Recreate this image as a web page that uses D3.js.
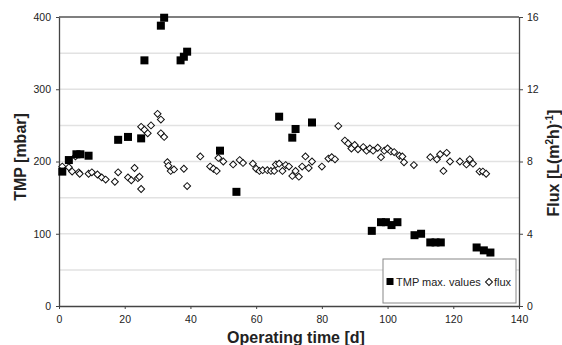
<!DOCTYPE html>
<html>
<head>
<meta charset="utf-8">
<script src="https://cdn.jsdelivr.net/npm/d3@7"></script>
<style>
  body { margin: 0; background: #fff; }
  text { font-family: "Liberation Sans", Arial, sans-serif; fill: #222; }
</style>
</head>
<body>
<div id="chart"></div>
<script>
// TMP max. values (mbar)
const tmpDays = [1, 3, 5.3, 6.5, 9, 18, 21, 25, 26, 31, 32, 37, 38, 39, 49, 54, 67, 71, 72, 77,
  95.2, 98, 99.5, 101.2, 103, 108.2, 110.2, 113, 114.6, 116.2, 127.1, 129.3, 131.3];
const tmpValues = [186, 202, 210, 210, 208, 230, 234, 232, 340, 388, 399, 340, 345, 352, 215, 158, 262, 233, 245, 254,
  104, 116, 116, 112, 116, 98, 100, 88, 88, 88, 81, 77, 74];

// flux L(m2h)-1
const fluxDays = [1, 3, 4, 5, 6, 6.3, 9, 10, 11.7, 13, 14.2, 17, 18, 21, 22, 23, 24, 24.5, 25,
  25, 26, 27, 28, 30, 31, 31, 32, 33, 33.3, 34, 35, 38, 39, 43, 46, 47, 48, 48.5, 50,
  53, 55, 56, 59, 60, 61, 62, 63.4, 64.5, 65.5, 66, 67, 68, 69, 70, 71, 72, 73, 74, 75,
  76, 77, 80, 82, 83, 84, 85, 87, 88, 89, 90, 91, 92.6, 93.6, 94.6, 95.6, 97, 98, 99,
  100, 101, 102, 103.6, 104.5, 105, 108, 113, 115, 116, 117, 118, 119, 122, 124, 125,
  126, 128, 129, 130];
const fluxValues = [7.72, 7.68, 7.44, 8.28, 7.4, 7.32, 7.32, 7.4, 7.28, 7.12, 7.0, 6.88, 7.4, 7.12, 6.96, 7.64, 7.08, 7.16, 6.48,
  9.92, 9.76, 9.56, 10.0, 10.64, 10.32, 9.56, 9.36, 7.96, 7.76, 7.48, 7.56, 7.6, 6.64, 8.28, 7.72, 7.6, 7.48, 8.2, 8.0,
  7.84, 8.08, 7.92, 7.88, 7.6, 7.48, 7.52, 7.52, 7.48, 7.48, 7.84, 7.88, 7.48, 7.8, 7.72, 7.2, 7.48, 7.16, 7.72, 8.28,
  7.64, 8.0, 7.72, 8.16, 8.24, 8.12, 9.96, 9.16, 9.0, 8.72, 8.92, 8.68, 8.8, 8.6, 8.72, 8.6, 8.76, 8.24, 8.6,
  8.72, 8.56, 8.52, 8.32, 8.28, 7.96, 7.8, 8.24, 8.12, 8.4, 7.48, 8.48, 8.0, 8.0, 7.84, 8.12,
  7.88, 7.44, 7.44, 7.32];

const xTicks = [0, 20, 40, 60, 80, 100, 120, 140];
const tmpTicks = [0, 100, 200, 300, 400];
const tmpGrid = [50, 100, 150, 200, 250, 300, 350];
const fluxTicks = [0, 4, 8, 12, 16];

const width = 562, height = 345;
const plotLeft = 59, plotRight = 519, plotTop = 17, plotBottom = 306;

const svg = d3.select("#chart").append("svg")
  .attr("width", width).attr("height", height);

const x = d3.scaleLinear().domain([0, 140]).range([plotLeft, plotRight]);
const y = d3.scaleLinear().domain([0, 400]).range([plotBottom, plotTop]);
const yFlux = d3.scaleLinear().domain([0, 16]).range([plotBottom, plotTop]);

// grid lines
svg.append("g").selectAll("line")
  .data(tmpGrid).enter().append("line")
  .attr("x1", plotLeft).attr("x2", plotRight)
  .attr("y1", d => y(d)).attr("y2", d => y(d))
  .attr("stroke", "#e2e2e2").attr("stroke-width", 1.5);

// top border
svg.append("line")
  .attr("x1", plotLeft).attr("x2", plotRight).attr("y1", plotTop).attr("y2", plotTop)
  .attr("stroke", "#555").attr("stroke-width", 1.3);

function styleAxis(g) {
  g.select(".domain").attr("stroke", "#444").attr("stroke-width", 1.3);
  g.selectAll(".tick line").attr("stroke", "#444");
  g.selectAll(".tick text").attr("font-size", "10.5px")
    .attr("font-family", "'Liberation Sans', Arial, sans-serif").attr("fill", "#222");
}

svg.append("g").attr("transform", `translate(0,${plotBottom})`)
  .call(d3.axisBottom(x).tickValues(xTicks).tickSize(3).tickSizeOuter(0).tickPadding(7))
  .call(styleAxis);

svg.append("g").attr("transform", `translate(${plotLeft},0)`)
  .call(d3.axisLeft(y).tickValues(tmpTicks).tickSize(3).tickSizeOuter(0).tickPadding(5))
  .call(styleAxis);

svg.append("g").attr("transform", `translate(${plotRight},0)`)
  .call(d3.axisRight(yFlux).tickValues(fluxTicks).tickSize(4).tickSizeOuter(0).tickPadding(4))
  .call(styleAxis);

// flux diamonds
const diamond = d3.symbol().type(d3.symbolSquare).size(24);
svg.append("g").selectAll("path")
  .data(fluxDays.map((d, i) => [d, fluxValues[i]]))
  .enter().append("path")
  .attr("d", diamond)
  .attr("transform", d => `translate(${x(d[0])},${yFlux(d[1])}) rotate(45)`)
  .attr("fill", "#fff").attr("stroke", "#111").attr("stroke-width", 1);

// TMP squares
svg.append("g").selectAll("rect")
  .data(tmpDays.map((d, i) => [d, tmpValues[i]]))
  .enter().append("rect")
  .attr("x", d => x(d[0]) - 4).attr("y", d => y(d[1]) - 4)
  .attr("width", 8).attr("height", 8)
  .attr("fill", "#000");

// axis titles
svg.append("text")
  .attr("transform", "translate(26,157) rotate(-90)")
  .attr("text-anchor", "middle")
  .attr("font-size", "16px").attr("font-weight", "bold")
  .text("TMP [mbar]");

svg.append("text")
  .attr("x", 296).attr("y", 343)
  .attr("text-anchor", "middle")
  .attr("font-size", "16px").attr("font-weight", "bold")
  .text("Operating time [d]");

const fluxTitle = svg.append("text")
  .attr("transform", "translate(559,163) rotate(-90)")
  .attr("text-anchor", "middle")
  .attr("font-size", "16px").attr("font-weight", "bold");
fluxTitle.append("tspan").text("Flux [L(m");
fluxTitle.append("tspan").attr("font-size", "10px").attr("dy", -6).text("2");
fluxTitle.append("tspan").attr("dy", 6).text("h)");
fluxTitle.append("tspan").attr("font-size", "10px").attr("dy", -6).text("-1");
fluxTitle.append("tspan").attr("dy", 6).text("]");

// legend
const lg = svg.append("g");
lg.append("rect")
  .attr("x", 383).attr("y", 259).attr("width", 133).attr("height", 44)
  .attr("fill", "#fff").attr("stroke", "#888").attr("stroke-width", 1);
lg.append("rect")
  .attr("x", 386.5).attr("y", 278).attr("width", 7).attr("height", 7).attr("fill", "#000");
lg.append("text")
  .attr("x", 396).attr("y", 286)
  .attr("font-size", "11px").text("TMP max. values");
lg.append("path")
  .attr("d", diamond)
  .attr("transform", "translate(489,282) rotate(45)")
  .attr("fill", "#fff").attr("stroke", "#111").attr("stroke-width", 1);
lg.append("text")
  .attr("x", 494).attr("y", 286)
  .attr("font-size", "11px").text("flux");
</script>
</body>
</html>
